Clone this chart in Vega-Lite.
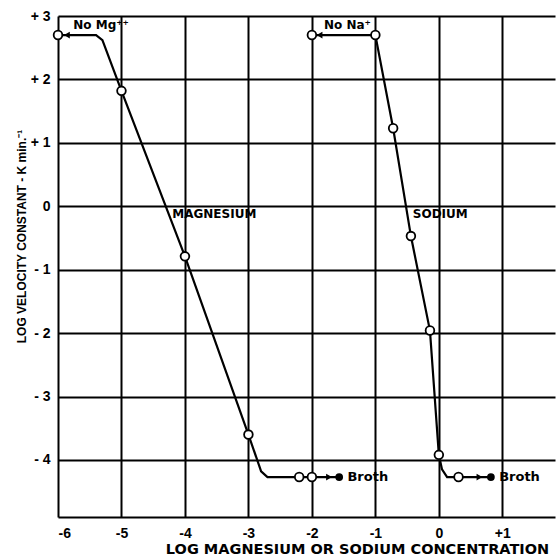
{
  "$schema": "https://vega.github.io/schema/vega-lite/v6.json",
  "autosize": {"type": "none"},
  "padding": {"left": 58, "top": 16, "right": 3, "bottom": 40},
  "width": 497,
  "height": 501,
  "background": "white",
  "config": {"view": {"stroke": null}, "font": "Liberation Sans"},
  "datasets": {
    "lines": [
      {"series": "Mg", "order": 1, "x": -6.0, "y": 2.7},
      {"series": "Mg", "order": 2, "x": -5.4, "y": 2.7},
      {"series": "Mg", "order": 3, "x": -5.3, "y": 2.62},
      {"series": "Mg", "order": 4, "x": -5.0, "y": 1.82},
      {"series": "Mg", "order": 5, "x": -4.0, "y": -0.79},
      {"series": "Mg", "order": 6, "x": -3.0, "y": -3.6},
      {"series": "Mg", "order": 7, "x": -2.8, "y": -4.18},
      {"series": "Mg", "order": 8, "x": -2.7, "y": -4.27},
      {"series": "Mg", "order": 9, "x": -2.2, "y": -4.27},
      {"series": "Mg", "order": 10, "x": -2.0, "y": -4.27},
      {"series": "Mg", "order": 11, "x": -1.6, "y": -4.27},
      {"series": "Na", "order": 1, "x": -2.0, "y": 2.7},
      {"series": "Na", "order": 2, "x": -1.0, "y": 2.7},
      {"series": "Na", "order": 3, "x": -0.72, "y": 1.23},
      {"series": "Na", "order": 4, "x": -0.44, "y": -0.47},
      {"series": "Na", "order": 5, "x": -0.14, "y": -1.96},
      {"series": "Na", "order": 6, "x": 0.0, "y": -3.92},
      {"series": "Na", "order": 7, "x": 0.05, "y": -4.15},
      {"series": "Na", "order": 8, "x": 0.13, "y": -4.27},
      {"series": "Na", "order": 9, "x": 0.31, "y": -4.27},
      {"series": "Na", "order": 10, "x": 0.78, "y": -4.27}
    ],
    "open": [
      {"x": -6.0, "y": 2.7}, {"x": -5.0, "y": 1.82}, {"x": -4.0, "y": -0.79},
      {"x": -3.0, "y": -3.6}, {"x": -2.2, "y": -4.27}, {"x": -2.0, "y": -4.27},
      {"x": -2.0, "y": 2.7}, {"x": -1.0, "y": 2.7}, {"x": -0.72, "y": 1.23},
      {"x": -0.44, "y": -0.47}, {"x": -0.14, "y": -1.96}, {"x": 0.0, "y": -3.92},
      {"x": 0.31, "y": -4.27}
    ],
    "filled": [{"x": -1.57, "y": -4.27}, {"x": 0.82, "y": -4.27}],
    "arrows": [
      {"x": -5.86, "y": 2.7, "dir": "left"},
      {"x": -1.88, "y": 2.7, "dir": "left"},
      {"x": -1.73, "y": -4.27, "dir": "right"},
      {"x": 0.64, "y": -4.27, "dir": "right"}
    ],
    "labels": [
      {"x": -5.76, "y": 2.86, "text": "No Mg⁺⁺", "size": 12},
      {"x": -1.81, "y": 2.86, "text": "No Na⁺", "size": 12},
      {"x": -4.2, "y": -0.13, "text": "MAGNESIUM", "size": 12},
      {"x": -0.41, "y": -0.13, "text": "SODIUM", "size": 12},
      {"x": -1.44, "y": -4.27, "text": "Broth", "size": 13},
      {"x": 0.95, "y": -4.27, "text": "Broth", "size": 13}
    ]
  },
  "layer": [
    {
      "data": {"name": "lines"},
      "mark": {"type": "line", "color": "black", "strokeWidth": 2.2},
      "encoding": {
        "x": {
          "field": "x", "type": "quantitative",
          "scale": {"domain": [-6, 1.83], "nice": false, "zero": false},
          "axis": {
            "values": [-6, -5, -4, -3, -2, -1, 0, 1],
            "labelExpr": "datum.value > 0 ? '+' + datum.value : datum.value",
            "grid": true, "gridColor": "black", "gridWidth": 2, "gridOpacity": 1,
            "domainColor": "black", "domainWidth": 2,
            "ticks": false, "labelPadding": 9,
            "labelFont": "Liberation Sans", "labelFontWeight": "bold", "labelFontSize": 14, "labelColor": "black",
            "title": "LOG MAGNESIUM OR SODIUM CONCENTRATION",
            "titleFont": "DejaVu Sans", "titleFontWeight": "bold", "titleFontSize": 14.5, "titleColor": "black",
            "titleX": 299, "titleY": 32, "titleAlign": "center", "titleBaseline": "middle", "titleAnchor": null
          }
        },
        "y": {
          "field": "y", "type": "quantitative",
          "scale": {"domain": [-4.9, 3], "nice": false, "zero": false},
          "axis": {
            "values": [-4, -3, -2, -1, 0, 1, 2, 3],
            "labelExpr": "datum.value > 0 ? '+ ' + datum.value : (datum.value < 0 ? '- ' + abs(datum.value) : datum.value)",
            "grid": true, "gridColor": "black", "gridWidth": 2, "gridOpacity": 1,
            "domain": false,
            "ticks": false, "labelPadding": 8,
            "labelFont": "Liberation Sans", "labelFontWeight": "bold", "labelFontSize": 14, "labelColor": "black",
            "title": "LOG VELOCITY CONSTANT - K min.⁻¹",
            "titleFont": "Liberation Sans", "titleFontWeight": "bold", "titleFontSize": 12, "titleColor": "black",
            "titleX": -37, "titleY": 220, "titleAlign": "center", "titleBaseline": "middle", "titleAngle": -90
          }
        },
        "detail": {"field": "series"},
        "order": {"field": "order", "type": "quantitative"}
      }
    },
    {
      "data": {"name": "arrows"},
      "mark": {"type": "point", "filled": true, "color": "black", "size": 45, "opacity": 1},
      "encoding": {
        "x": {"field": "x", "type": "quantitative"},
        "y": {"field": "y", "type": "quantitative"},
        "shape": {"field": "dir", "type": "nominal", "scale": {"domain": ["left", "right"], "range": ["triangle-left", "triangle-right"]}, "legend": null}
      }
    },
    {
      "data": {"name": "open"},
      "mark": {"type": "point", "filled": true, "fill": "white", "stroke": "black", "strokeWidth": 1.8, "size": 75, "opacity": 1},
      "encoding": {
        "x": {"field": "x", "type": "quantitative"},
        "y": {"field": "y", "type": "quantitative"}
      }
    },
    {
      "data": {"name": "filled"},
      "mark": {"type": "point", "filled": true, "color": "black", "size": 60, "opacity": 1},
      "encoding": {
        "x": {"field": "x", "type": "quantitative"},
        "y": {"field": "y", "type": "quantitative"}
      }
    },
    {
      "data": {"name": "labels"},
      "mark": {"type": "text", "align": "left", "baseline": "middle", "fontWeight": "bold", "font": "DejaVu Sans", "color": "black"},
      "encoding": {
        "x": {"field": "x", "type": "quantitative"},
        "y": {"field": "y", "type": "quantitative"},
        "text": {"field": "text"},
        "size": {"field": "size", "type": "quantitative", "scale": null}
      }
    }
  ]
}
